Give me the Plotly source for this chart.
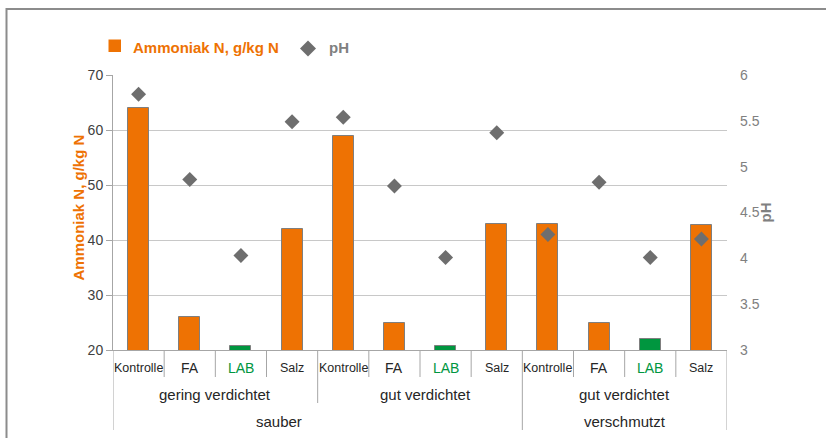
import plotly.graph_objects as go

# ---- data ----
treatments = ["Kontrolle", "FA", "LAB", "Salz"] * 3
compaction = ["gering verdichtet", "gut verdichtet", "gut verdichtet"]
soiling = ["sauber", "verschmutzt"]
ammoniak = [64, 26, 20.8, 42, 59, 25, 20.8, 43, 43, 25, 22, 42.8]
ph = [5.79, 4.86, 4.03, 5.49, 5.54, 4.79, 4.01, 5.37, 4.26, 4.83, 4.01, 4.21]
left_ticks = [20, 30, 40, 50, 60, 70]
right_ticks = [3, 3.5, 4, 4.5, 5, 5.5, 6]

ORANGE = "#EE7203"
GREEN = "#00963F"
GRAY_D = "#6E6E6E"
FONT = "Liberation Sans, Arial, sans-serif"

W, H = 826, 438
L, R, T, B = 113, 99, 75, 88
PW, PH = W - L - R, H - T - B


def px(x):
    return (x - L) / PW


def py(y):
    return (H - B - y) / PH


xs = list(range(len(treatments)))
bar_colors = [GREEN if t == "LAB" else ORANGE for t in treatments]

fig = go.Figure()
fig.add_trace(go.Bar(
    x=xs, y=ammoniak, width=0.41, marker=dict(color=bar_colors, line=dict(color="#7F7F7F", width=1)),
    name="Ammoniak N, g/kg N", showlegend=False))
fig.add_trace(go.Scatter(
    x=xs, y=ph, mode="markers", yaxis="y2",
    marker=dict(symbol="diamond", size=11.5, color=GRAY_D), name="pH", showlegend=False))

fig.update_layout(
    width=W, height=H, margin=dict(l=L, r=R, t=T, b=B),
    paper_bgcolor="white", plot_bgcolor="white",
    font=dict(family=FONT),
    bargap=0,
    xaxis=dict(range=[-0.5, len(xs) - 0.5], showticklabels=False, showgrid=False, zeroline=False,
               showline=True, linecolor="#A6A6A6", linewidth=1, ticks=""),
    yaxis=dict(range=[20, 70], tickvals=left_ticks, showgrid=True, gridcolor="#C8C8C8", gridwidth=1,
               zeroline=False, showline=True, linecolor="#A6A6A6", linewidth=1,
               ticks="outside", ticklen=6, tickcolor="#A6A6A6",
               tickfont=dict(size=14, color="#404040", family=FONT)),
    yaxis2=dict(range=[3, 6], tickvals=right_ticks, overlaying="y", side="right", showgrid=False,
                zeroline=False, showline=False, ticks="", ticklabelstandoff=12,
                tickfont=dict(size=14, color="#808080", family=FONT)),
)

shapes = []
annotations = []
LINE = dict(color="#A6A6A6", width=1)

# outer frame
shapes.append(dict(type="rect", xref="paper", yref="paper", x0=px(6.5), x1=px(W + 20), y0=py(9), y1=py(H + 20),
                   line=dict(color="#8C8C8C", width=2), fillcolor="rgba(0,0,0,0)", layer="below"))

# left axis line extension and right boundary
shapes.append(dict(type="line", xref="x", yref="paper", x0=-0.5, x1=-0.5, y0=0, y1=py(430), line=LINE))
shapes.append(dict(type="line", xref="x", yref="paper", x0=len(xs) - 0.5, x1=len(xs) - 0.5, y0=0, y1=py(430), line=LINE))
# separators
for i in range(len(xs) - 1):
    b = i + 1
    if b == 8:
        yb = 430
    elif b % 4 == 0:
        yb = 403
    else:
        yb = 377
    shapes.append(dict(type="line", xref="x", yref="paper", x0=b - 0.5, x1=b - 0.5, y0=0, y1=py(yb), line=LINE))

# category labels row 1
for i, t in enumerate(treatments):
    size = 14 if t in ("FA", "LAB") else 12.5
    col = GREEN if t == "LAB" else "#262626"
    annotations.append(dict(x=i, y=py(368), xref="x", yref="paper", text=t, showarrow=False,
                            font=dict(size=size, color=col, family=FONT), xanchor="center", yanchor="middle"))
# row 2
for g, name in enumerate(compaction):
    cx = [1.5, 5.6, 9.5][g]
    annotations.append(dict(x=cx, y=py(394), xref="x", yref="paper", text=name, showarrow=False,
                            font=dict(size=15, color="#262626", family=FONT), xanchor="center", yanchor="middle"))
# row 3
for g, name in enumerate(soiling):
    cx = [2.75, 9.5][g]
    annotations.append(dict(x=cx, y=py(421), xref="x", yref="paper", text=name, showarrow=False,
                            font=dict(size=15, color="#262626", family=FONT), xanchor="center", yanchor="middle"))

# axis titles
annotations.append(dict(x=px(67), y=py(208), xref="paper", yref="paper", text="<b>Ammoniak N, g/kg N</b>",
                        textangle=-90, showarrow=False, font=dict(size=15, color=ORANGE, family=FONT)))
annotations.append(dict(x=px(775), y=py(213), xref="paper", yref="paper", text="<b>pH</b>",
                        textangle=-90, showarrow=False, font=dict(size=15, color="#808080", family=FONT)))

# legend
shapes.append(dict(type="rect", xref="paper", yref="paper", x0=px(108.5), x1=px(121), y0=py(39.5), y1=py(52),
                   fillcolor=ORANGE, line=dict(width=0)))
annotations.append(dict(x=px(131), y=py(47), xref="paper", yref="paper", text="<b>Ammoniak N, g/kg N</b>",
                        xanchor="left", yanchor="middle", showarrow=False,
                        font=dict(size=15, color=ORANGE, family=FONT)))
cxp, cyp, r = 308, 48.5, 8
shapes.append(dict(type="path", xref="paper", yref="paper",
                   path=f"M {px(cxp - r)} {py(cyp)} L {px(cxp)} {py(cyp - r)} L {px(cxp + r)} {py(cyp)} L {px(cxp)} {py(cyp + r)} Z",
                   fillcolor=GRAY_D, line=dict(width=0)))
annotations.append(dict(x=px(327), y=py(47), xref="paper", yref="paper", text="<b>pH</b>",
                        xanchor="left", yanchor="middle", showarrow=False,
                        font=dict(size=15, color="#808080", family=FONT)))

fig.update_layout(shapes=shapes, annotations=annotations)
fig.write_html("out.html", config={"displayModeBar": False},
               post_script="document.body.style.margin='0';document.body.style.overflow='hidden';")
